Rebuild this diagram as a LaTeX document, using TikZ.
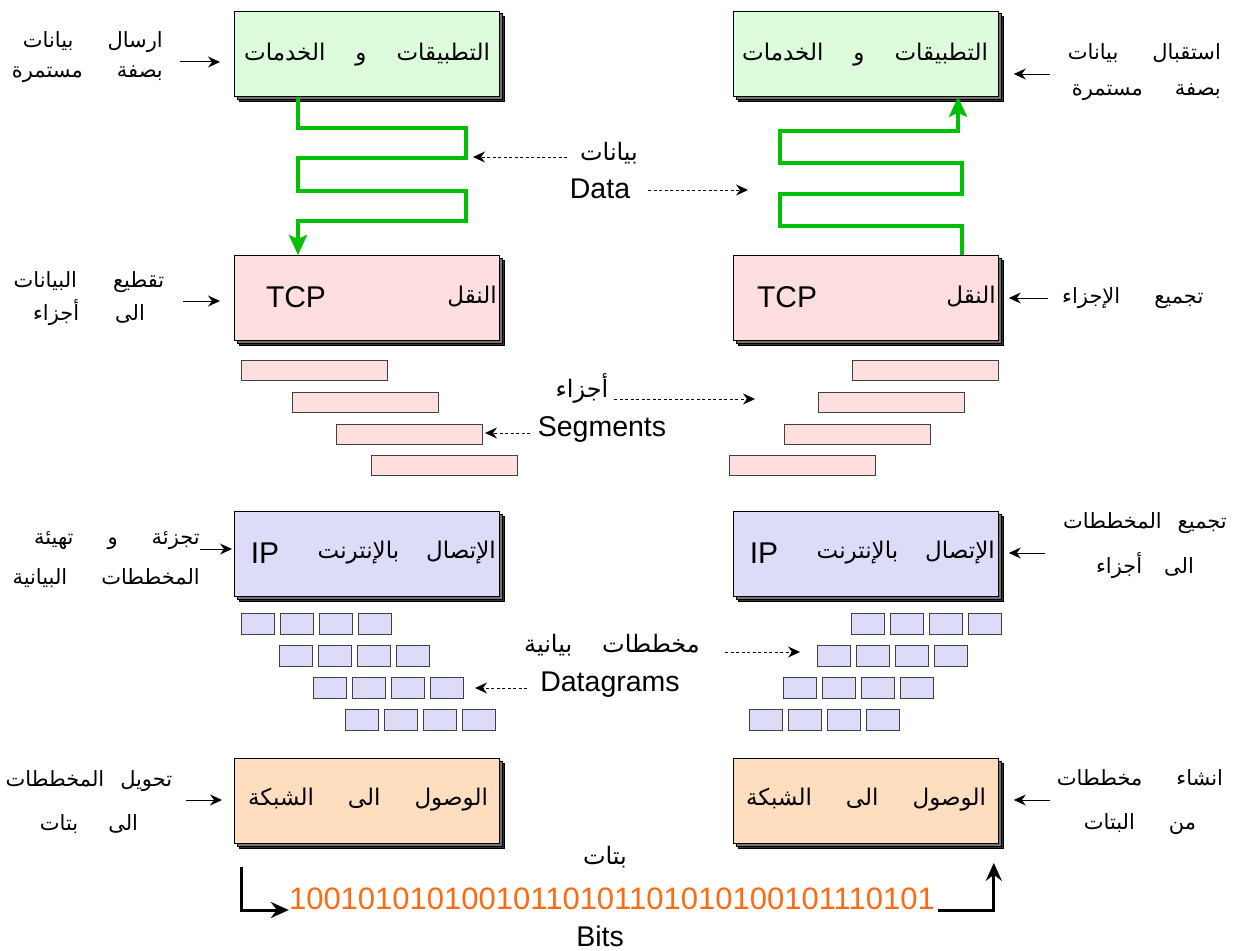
\documentclass[tikz,border=0pt]{standalone}
\usepackage{fontspec}
\setmainfont{Liberation Sans}
\newfontfamily\arabicfont[Script=Arabic]{DejaVu Sans}
\TeXXeTstate=1
\usetikzlibrary{arrows.meta,shadows}
\definecolor{appfill}{HTML}{DCFCDC}
\definecolor{tcpfill}{HTML}{FFDEDF}
\definecolor{ipfill}{HTML}{DCDCF8}
\definecolor{netfill}{HTML}{FFDEC0}
\definecolor{flowgreen}{HTML}{00C000}
\definecolor{bitorange}{HTML}{FF6A10}
\newcommand{\artxt}[1]{{\arabicfont\beginR #1\endR}}
\newcommand{\wgap}[1][27pt]{\hspace{#1}}
\newcommand{\arsize}{\fontsize{23}{30}\selectfont\lineskiplimit=-30pt\relax}
\newcommand{\sidesize}{\fontsize{21}{30}\selectfont\lineskiplimit=-30pt\relax}
\tikzset{
    layerbox/.style={rectangle, draw=black, line width=0.8pt, inner sep=0pt, anchor=north west,
        minimum width=265pt, minimum height=85pt,
        copy shadow={shadow xshift=5pt, shadow yshift=-5pt, fill=black!80, draw=black},
        copy shadow={shadow xshift=2.5pt, shadow yshift=-2.5pt, fill=black!55, draw=black}},
    seg/.style={rectangle, draw=black!75, fill=tcpfill, line width=0.8pt, inner sep=0pt,
        anchor=north west, minimum width=146pt, minimum height=20pt},
    dgram/.style={rectangle, draw=black!75, fill=ipfill, line width=0.8pt, inner sep=0pt,
        anchor=north west, minimum width=33pt, minimum height=21pt},
    artext/.style={font=\arsize, inner sep=0pt},
    sidelbl/.style={font=\sidesize, inner sep=0pt},
    midar/.style={font=\fontsize{24}{30}\selectfont, inner sep=0pt},
    latext/.style={font=\fontsize{28.5}{30}\selectfont, inner sep=0pt},
    boxlat/.style={font=\fontsize{30}{30}\selectfont, inner sep=0pt},
    sidearrow/.style={-{Stealth[length=12pt, width=11pt, inset=4pt]}, line width=1pt},
    dasharrow/.style={-{Stealth[length=12pt, width=11pt, inset=4pt]}, line width=0.8pt,
        dash pattern=on 3pt off 2.5pt},
    flow/.style={flowgreen, line width=3.8pt, -{Stealth[length=20pt, width=18pt, inset=4pt]}},
    bitarrow/.style={line width=3pt, -{Stealth[length=18pt, width=16pt, inset=6pt]}}
}
\begin{document}
\begin{tikzpicture}[x=1pt, y=-1pt]
        \useasboundingbox (0,0) rectangle (1233,950);
        \node[layerbox, fill=appfill] (appL) at (234,11) {};
        \node[layerbox, fill=appfill] (appR) at (733,11) {};
        \node[layerbox, fill=tcpfill] (tcpL) at (234,255) {};
        \node[layerbox, fill=tcpfill] (tcpR) at (733,255) {};
        \node[layerbox, fill=ipfill] (ipL) at (234,511) {};
        \node[layerbox, fill=ipfill] (ipR) at (733,511) {};
        \node[layerbox, fill=netfill] (netL) at (234,758) {};
        \node[layerbox, fill=netfill] (netR) at (733,758) {};

        \node[artext] (appLt) at (367,55) {\artxt{التطبيقات\wgap[30pt]و\wgap[30pt]الخدمات}};
        \node[artext] (appRt) at (865,55) {\artxt{التطبيقات\wgap[30pt]و\wgap[30pt]الخدمات}};
        \node[boxlat] (tcpLa) at (296,297) {TCP};
        \node[artext, anchor=east] (tcpLb) at (497,297) {\artxt{النقل}};
        \node[boxlat] (tcpRa) at (787,297) {TCP};
        \node[artext, anchor=east] (tcpRb) at (996,297) {\artxt{النقل}};
        \node[boxlat] (ipLa) at (265,553) {IP};
        \node[artext, anchor=east] (ipLb) at (496,553) {\artxt{الإتصال\wgap بالإنترنت}};
        \node[boxlat] (ipRa) at (764,553) {IP};
        \node[artext, anchor=east] (ipRb) at (995,553) {\artxt{الإتصال\wgap بالإنترنت}};
        \node[artext] (netLt) at (368,800) {\artxt{الوصول\wgap[34pt]الى\wgap[34pt]الشبكة}};
        \node[artext] (netRt) at (866,800) {\artxt{الوصول\wgap[34pt]الى\wgap[34pt]الشبكة}};

        \foreach \i/\xl/\xr/\y in {1/241/852/360, 2/292/818/392, 3/336/784/424, 4/371/729/455} {
                \node[seg] (segL\i) at (\xl,\y) {};
                \node[seg] (segR\i) at (\xr,\y) {};
        }
        \foreach \i/\xl/\xr/\y in {1/241/851/613, 2/279/817/645, 3/313/783/677, 4/345/749/709} {
                \foreach \j in {0,...,3} {
                        \node[dgram] (dgL\i\j) at (\xl+\j*39,\y) {};
                        \node[dgram] (dgR\i\j) at (\xr+\j*39,\y) {};
                }
        }

        \node[sidelbl, align=right, anchor=east] (lblAppL) at (163,57)
                {\artxt{ارسال\wgap[34pt]بيانات}\\\artxt{بصفة\wgap[34pt]مستمرة}};
        \node[sidelbl, align=center] (lblTcpL) at (89,299)
                {\artxt{تقطيع\wgap[36pt]البيانات}\\[3pt]\artxt{الى\wgap[36pt]أجزاء}};
        \node[sidelbl, align=right, anchor=east] (lblIpL) at (200,560)
                {\artxt{تجزئة\wgap[34pt]و\wgap[34pt]تهيئة}\\[10pt]\artxt{المخططات\wgap[34pt]البيانية}};
        \node[sidelbl, align=center] (lblNetL) at (89,802)
                {\artxt{تحويل\wgap[16pt]المخططات}\\[14pt]\artxt{الى\wgap[30pt]بتات}};
        \node[sidelbl, align=right, anchor=east] (lblAppR) at (1221,72)
                {\artxt{استقبال\wgap[34pt]بيانات}\\[6pt]\artxt{بصفة\wgap[32pt]مستمرة}};
        \node[sidelbl, anchor=west] (lblTcpR) at (1062,298) {\artxt{تجميع\wgap[34pt]الإجزاء}};
        \node[sidelbl, align=center] (lblIpR) at (1145,546)
                {\artxt{تجميع\wgap[16pt]المخططات}\\[15pt]\artxt{الى\wgap[22pt]أجزاء}};
        \node[sidelbl, align=center] (lblNetR) at (1140,802)
                {\artxt{انشاء\wgap[34pt]مخططات}\\[14pt]\artxt{من\wgap[34pt]البتات}};

        \coordinate (sAppL) at (180,62);
        \coordinate (sTcpL) at (183,301);
        \coordinate (sIpL) at (200,549);
        \coordinate (sNetL) at (186,800);
        \coordinate (sAppR) at (1050,74);
        \coordinate (sTcpR) at (1048,298);
        \coordinate (sIpR) at (1045,553);
        \coordinate (sNetR) at (1050,800);
        \draw[sidearrow, shorten >=14pt] (sAppL) -- (sAppL -| appL.west);
        \draw[sidearrow, shorten >=14pt] (sTcpL) -- (sTcpL -| tcpL.west);
        \draw[sidearrow, shorten >=2pt] (sIpL) -- (sIpL -| ipL.west);
        \draw[sidearrow, shorten >=12pt] (sNetL) -- (sNetL -| netL.west);
        \draw[sidearrow, shorten >=15pt] (sAppR) -- (sAppR -| appR.east);
        \draw[sidearrow, shorten >=10pt] (sTcpR) -- (sTcpR -| tcpR.east);
        \draw[sidearrow, shorten >=10pt] (sIpR) -- (sIpR -| ipR.east);
        \draw[sidearrow, shorten >=15pt] (sNetR) -- (sNetR -| netR.east);

        \draw[flow] ([xshift=64pt]appL.south west) -- ++(0,31) -- ++(168,0) -- ++(0,30) -- ++(-168,0)
                -- ++(0,33) -- ++(168,0) -- ++(0,30) -- ++(-168,0) -- ([xshift=64pt]tcpL.north west);
        \draw[flow] ([xshift=229pt]tcpR.north west) -- ++(0,-29) -- ++(-182,0) -- ++(0,-32) -- ++(182,0)
                -- ++(0,-31) -- ++(-182,0) -- ++(0,-32) -- ++(178,0) -- ([xshift=225pt]appR.south west);

        \node[midar] (lblBay) at (609,153) {\artxt{بيانات}};
        \node[latext] (lblData) at (600,189) {Data};
        \node[midar] (lblAjza) at (582,388) {\artxt{أجزاء}};
        \node[latext] (lblSeg) at (602,430) {Segments};
        \node[midar] (lblMkh) at (612,645) {\artxt{مخططات\wgap[30pt]بيانية}};
        \node[latext] (lblDgm) at (610,685) {Datagrams};
        \coordinate (dBayS) at (567,157);
        \coordinate (dBayE) at (473,157);
        \coordinate (dDataS) at (648,190);
        \coordinate (dDataE) at (748,190);
        \coordinate (dAjzaS) at (614,399);
        \coordinate (dAjzaE) at (755,399);
        \coordinate (dSegS) at (530,433);
        \coordinate (dSegE) at (485,433);
        \coordinate (dMkhS) at (725,652);
        \coordinate (dMkhE) at (800,652);
        \coordinate (dDgmS) at (527,688);
        \coordinate (dDgmE) at (475,688);
        \draw[dasharrow] (dBayS) -- (dBayE);
        \draw[dasharrow] (dDataS) -- (dDataE);
        \draw[dasharrow] (dAjzaS) -- (dAjzaE);
        \draw[dasharrow] (dSegS) -- (dSegE);
        \draw[dasharrow] (dMkhS) -- (dMkhE);
        \draw[dasharrow] (dDgmS) -- (dDgmE);

        \node[midar] (lblBtat) at (605,857) {\artxt{بتات}};
        \node[font=\fontsize{31}{31}\selectfont, text=bitorange, inner sep=0pt] (bits) at (612,899)
                {10010101010010110101101010100101110101};
        \node[latext] (lblBits) at (600,936) {Bits};
        \draw[bitarrow, shorten <=23pt] ([xshift=7pt]netL.south west) |- ([yshift=-11pt]bits.west);
        \draw[bitarrow, shorten <=3pt, shorten >=19pt] ([yshift=-11pt]bits.east) -| ([xshift=-5pt]netR.south east);
\end{tikzpicture}
\end{document}
